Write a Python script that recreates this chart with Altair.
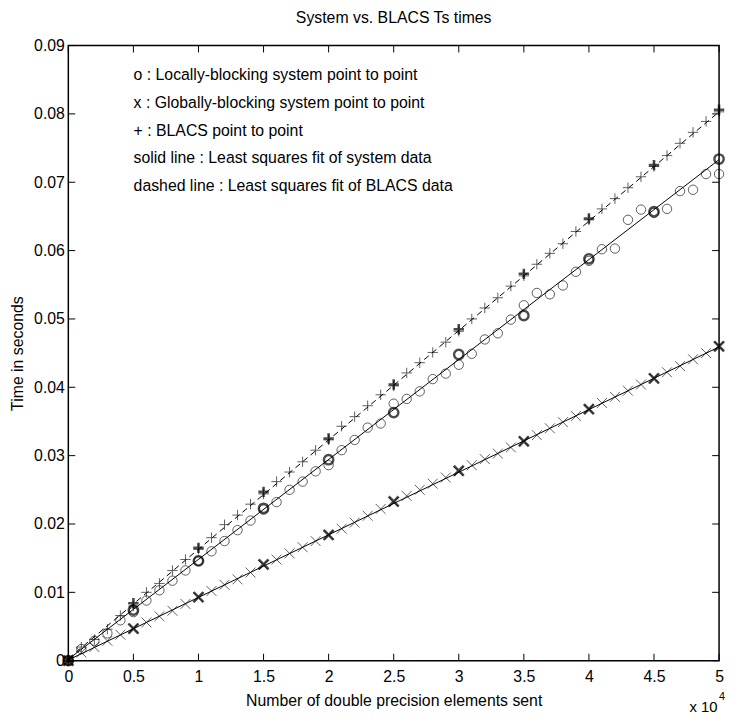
import altair as alt
import pandas as pd

W, H = 658, 622
FONT = "Liberation Sans"
FS = 16

# ---- data -------------------------------------------------------------
x_fine = [0, 1000, 2000, 3000, 4000, 5000, 6000, 7000, 8000, 9000,
          10000, 11000, 12000, 13000, 14000, 15000, 16000, 17000, 18000, 19000,
          20000, 21000, 22000, 23000, 24000, 25000, 26000, 27000, 28000, 29000,
          30000, 31000, 32000, 33000, 34000, 35000, 36000, 37000, 38000, 39000,
          40000, 41000, 42000, 43000, 44000, 45000, 46000, 47000, 48000, 49000,
          50000]
x_coarse = [0, 5000, 10000, 15000, 20000, 25000, 30000, 35000, 40000, 45000, 50000]

# o : locally-blocking system point to point
local_fine = [0.0, 0.0017, 0.0029, 0.0040, 0.0059, 0.0071, 0.0088, 0.0103, 0.0117, 0.0132,
              0.0146, 0.0160, 0.0175, 0.0191, 0.0205, 0.0221, 0.0232, 0.0250, 0.0262, 0.0277,
              0.0286, 0.0308, 0.0323, 0.0341, 0.0347, 0.0376, 0.0383, 0.0394, 0.0412, 0.0420,
              0.0433, 0.0449, 0.0470, 0.0479, 0.0499, 0.0520, 0.0538, 0.0536, 0.0549, 0.0569,
              0.0585, 0.0602, 0.0603, 0.0645, 0.0660, 0.0655, 0.0661, 0.0687, 0.0689, 0.0712,
              0.0712]
local_coarse = [0.0, 0.0074, 0.0146, 0.0223, 0.0294, 0.0363, 0.0448, 0.0505, 0.0588, 0.0657, 0.0734]

# x : globally-blocking system point to point
global_fine = [0.0, 0.0012, 0.0020, 0.0029, 0.0038, 0.0047, 0.0056, 0.0065, 0.0073, 0.0083,
               0.0093, 0.0102, 0.0111, 0.0119, 0.0129, 0.0140, 0.0148, 0.0157, 0.0166, 0.0175,
               0.0184, 0.0193, 0.0202, 0.0212, 0.0222, 0.0232, 0.0241, 0.0250, 0.0259, 0.0268,
               0.0277, 0.0286, 0.0295, 0.0303, 0.0312, 0.0321, 0.0330, 0.0340, 0.0349, 0.0358,
               0.0368, 0.0377, 0.0386, 0.0395, 0.0404, 0.0413, 0.0422, 0.0431, 0.0441, 0.0450,
               0.0460]
global_coarse = [0.0, 0.0047, 0.0093, 0.0141, 0.0184, 0.0233, 0.0278, 0.0321, 0.0368, 0.0413, 0.0460]

# + : BLACS point to point
blacs_fine = [0.0, 0.0020, 0.0031, 0.0046, 0.0066, 0.0080, 0.0100, 0.0113, 0.0132, 0.0148,
              0.0163, 0.0180, 0.0199, 0.0213, 0.0229, 0.0244, 0.0262, 0.0276, 0.0291, 0.0308,
              0.0323, 0.0343, 0.0357, 0.0373, 0.0389, 0.0402, 0.0421, 0.0436, 0.0451, 0.0466,
              0.0482, 0.0500, 0.0516, 0.0531, 0.0548, 0.0563, 0.0580, 0.0596, 0.0610, 0.0628,
              0.0645, 0.0661, 0.0676, 0.0692, 0.0708, 0.0723, 0.0739, 0.0757, 0.0773, 0.0789,
              0.0803]
blacs_coarse = [0.0, 0.0084, 0.0165, 0.0247, 0.0325, 0.0404, 0.0485, 0.0566, 0.0647, 0.0725, 0.0806]

# least squares fits (end points)
fit_x = [0, 50000]
fit_local = [0.0002, 0.0733]
fit_global = [0.0001, 0.0459]
fit_blacs = [0.0003, 0.0803]

x_ticks = [0, 5000, 10000, 15000, 20000, 25000, 30000, 35000, 40000, 45000, 50000]
y_ticks = [0, 0.01, 0.02, 0.03, 0.04, 0.05, 0.06, 0.07, 0.08, 0.09]

legend_lines = [
    "o : Locally-blocking system point to point",
    "x : Globally-blocking system point to point",
    "+ : BLACS point to point",
    "solid line : Least squares fit of system data",
    "dashed line : Least squares fit of BLACS data",
]

# ---- chart ------------------------------------------------------------
xs = alt.Scale(domain=[0, 50000], nice=False, zero=False)
ys = alt.Scale(domain=[0, 0.09], nice=False, zero=False)

X_PATH = "M-1,-1L1,1M-1,1L1,-1"
P_PATH = "M-1,0L1,0M0,-1L0,1"

x_axis = alt.Axis(values=x_ticks, labelExpr="format(datum.value/10000, '.1~f')",
                  ticks=False, domain=False, grid=False, labelFontSize=FS,
                  labelPadding=8, labelFlush=False, labelOverlap=False,
                  title="Number of double precision elements sent", titleFontSize=FS,
                  titleFontWeight="normal", titlePadding=8)
y_axis = alt.Axis(values=y_ticks, format=".2~f", ticks=False, domain=False, grid=False,
                  labelFontSize=FS, labelPadding=4, labelFlush=False, labelOverlap=False,
                  title="Time in seconds", titleFontSize=FS, titleFontWeight="normal",
                  titlePadding=8)

XE = alt.X("x:Q", scale=xs, axis=x_axis)
YE = alt.Y("y:Q", scale=ys, axis=y_axis)


def pts(xv, yv):
    return pd.DataFrame({"x": xv, "y": yv})


layers = []
# fit lines
layers.append(alt.Chart(pts(fit_x, fit_local)).mark_line(color="black", strokeWidth=1).encode(x=XE, y=YE))
layers.append(alt.Chart(pts(fit_x, fit_global)).mark_line(color="black", strokeWidth=1).encode(x=XE, y=YE))
layers.append(alt.Chart(pts(fit_x, fit_blacs)).mark_line(color="black", strokeWidth=1,
                                                         strokeDash=[6, 4]).encode(x=XE, y=YE))
# markers (fine sampling, thin)
layers.append(alt.Chart(pts(x_fine, local_fine)).mark_point(
    shape="circle", size=90, color="black", strokeWidth=0.9, filled=False).encode(x=XE, y=YE))
layers.append(alt.Chart(pts(x_fine, global_fine)).mark_point(
    shape=X_PATH, size=100, color="black", strokeWidth=0.9, filled=False).encode(x=XE, y=YE))
layers.append(alt.Chart(pts(x_fine, blacs_fine)).mark_point(
    shape=P_PATH, size=110, color="black", strokeWidth=0.9, filled=False).encode(x=XE, y=YE))
# markers (coarse sampling, bold)
layers.append(alt.Chart(pts(x_coarse, local_coarse)).mark_point(
    shape="circle", size=90, color="black", strokeWidth=2.4, filled=False).encode(x=XE, y=YE))
layers.append(alt.Chart(pts(x_coarse, global_coarse)).mark_point(
    shape=X_PATH, size=100, color="black", strokeWidth=2.6, filled=False).encode(x=XE, y=YE))
layers.append(alt.Chart(pts(x_coarse, blacs_coarse)).mark_point(
    shape=P_PATH, size=110, color="black", strokeWidth=2.6, filled=False).encode(x=XE, y=YE))

# inward ticks on all four sides
tx = pd.DataFrame({"x": x_ticks})
ty = pd.DataFrame({"y": y_ticks})
layers.append(alt.Chart(tx).mark_rule(color="black", strokeWidth=1).encode(
    x=XE, y=alt.value(H), y2=alt.value(H - 7)))
layers.append(alt.Chart(tx).mark_rule(color="black", strokeWidth=1).encode(
    x=XE, y=alt.value(0), y2=alt.value(7)))
layers.append(alt.Chart(ty).mark_rule(color="black", strokeWidth=1).encode(
    y=YE, x=alt.value(0), x2=alt.value(7)))
layers.append(alt.Chart(ty).mark_rule(color="black", strokeWidth=1).encode(
    y=YE, x=alt.value(W), x2=alt.value(W - 7)))

# legend text block
layers.append(alt.Chart(pd.DataFrame({"t": ["\n".join(legend_lines)]})).mark_text(
    align="left", baseline="middle", fontSize=FS, lineBreak="\n", lineHeight=28,
    color="black", font=FONT).encode(text="t:N", x=alt.value(66), y=alt.value(30)))

# exponent label "x 10^4"
layers.append(alt.Chart(pd.DataFrame({"t": ["x 10"]})).mark_text(
    align="left", baseline="middle", fontSize=15, color="black", font=FONT).encode(
    text="t:N", x=alt.value(628), y=alt.value(H + 47)))
layers.append(alt.Chart(pd.DataFrame({"t": ["4"]})).mark_text(
    align="left", baseline="middle", fontSize=11, color="black", font=FONT).encode(
    text="t:N", x=alt.value(658), y=alt.value(H + 37)))

chart = alt.layer(*layers).properties(
    width=W, height=H,
    title=alt.TitleParams("System vs. BLACS Ts times", fontSize=FS, fontWeight="normal",
                          anchor="middle", offset=12, font=FONT, color="black"),
    padding={"left": 61, "top": 34, "right": 6, "bottom": 55},
    autosize=alt.AutoSizeParams(type="none"),
).configure(
    font=FONT, background="white",
    view=alt.ViewConfig(stroke="black", strokeWidth=1.5),
    axis=alt.AxisConfig(labelFont=FONT, titleFont=FONT, labelColor="black", titleColor="black"),
)

chart.save("out.html", embed_options={"renderer": "svg", "actions": False})
